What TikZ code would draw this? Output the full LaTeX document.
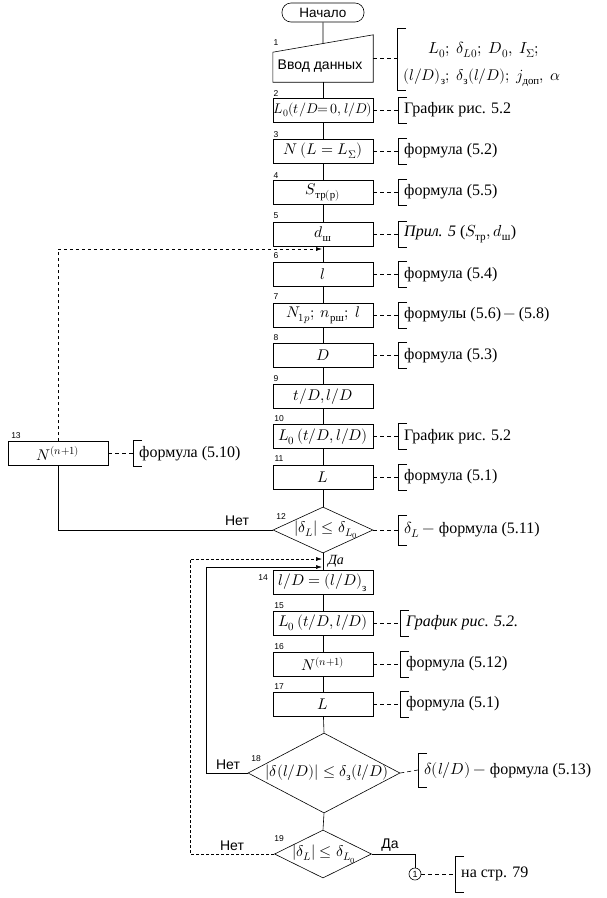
\documentclass[tikz,border=0pt]{standalone}
\usepackage{fontspec}
\usepackage{amsmath}
\usepackage{unicode-math}
\setmainfont{Liberation Serif}
\setsansfont{Liberation Sans}
\setmathfont{Latin Modern Math}
\usetikzlibrary{shapes.geometric,arrows.meta,calc}
\newcommand{\mycmt}[5]{%
  \coordinate (br#1) at (#2,#3);
  \draw[cline] (#1.east) -- (br#1);
  \draw[brk] (#2+9,#3-#4) -- (#2,#3-#4) -- (#2,#3+#4) -- (#2+9,#3+#4);
  \node[cmt] (ct#1) at (#2+6,#3) {#5};
}
\begin{document}
\begin{tikzpicture}[x=1pt,y=-1pt,
  box/.style={draw, line width=0.6pt, minimum width=100pt, minimum height=24pt, inner sep=0pt, font=\fontsize{15.5}{17}\selectfont},
  term/.style={draw, line width=0.6pt, rounded corners=9pt, minimum width=82pt, minimum height=19pt, inner sep=0pt, font=\sffamily\fontsize{13.5}{15}\selectfont},
  dia/.style={draw, line width=0.6pt, shape=diamond, inner sep=0pt},
  dtext/.style={inner sep=0pt, font=\fontsize{15.5}{17}\selectfont},
  num/.style={inner sep=0pt, font=\sffamily\fontsize{8.5}{9}\selectfont},
  cmt/.style={inner sep=0pt, anchor=west, font=\fontsize{16}{18}\selectfont},
  lab/.style={inner sep=0pt, font=\sffamily\fontsize{14}{16}\selectfont},
  flow/.style={line width=0.6pt},
  cline/.style={line width=0.6pt, dash pattern=on 4pt off 3pt},
  brk/.style={line width=0.6pt},
  arr/.style={-{Latex[length=6pt,width=4pt]}}
]
\fill[white] (0,0) rectangle (606,898);
\useasboundingbox (0,0) rectangle (606,898);

% start
\node[term] (start) at (323,12.5) {Начало};

% block 1 (manual input)
\node[inner sep=0pt, minimum width=100pt, minimum height=47pt] (b1) at (323,58.5) {};
\draw[flow] ([yshift=30pt]b1.south west) -- (b1.north east) -- (b1.south east) -- (b1.south west) -- cycle;
\node[lab] (b1t) at (320,66) {Ввод данных};
\coordinate (b1top) at ($([yshift=30pt]b1.south west)!0.5!(b1.north east)$);

% main column
\node[box, font=\fontsize{14}{16}\selectfont] (b2) at (323,110) {$L_0\!\left(t/D{=}\,0,l/D\right)$};
\node[box] (b3) at (323,151) {$N\left(L=L_\Sigma\right)$};
\node[box] (b4) at (323,192) {$S_{\text{тр}(\text{р})}$};
\node[box] (b5) at (323,234) {$d_\text{ш}$};
\node[box] (b6) at (323,274.5) {$l$};
\node[box] (b7) at (323,315) {$N_{1p};\ n_{\text{рш}};\ l$};
\node[box] (b8) at (323,355.5) {$D$};
\node[box] (b9) at (323,396.5) {$t/D, l/D$};
\node[box] (b10) at (323,436.5) {$L_0\left(t/D, l/D\right)$};
\node[box] (b11) at (323,477) {$L$};
\node[dia, minimum width=100pt, minimum height=46pt] (d12) at (323,530) {};
\node[dtext] (d12t) at (326,530) {$|\delta_L|\le\delta_{L_0}$};
\node[box] (b13) at (58,453.5) {$N^{(n+1)}$};
\node[box] (b14) at (323,582.5) {$l/D=\left(l/D\right)_\text{з}$};
\node[box] (b15) at (323,623) {$L_0\left(t/D,l/D\right)$};
\node[box] (b16) at (323,664) {$N^{(n+1)}$};
\node[box] (b17) at (323,704) {$L$};
\node[dia, minimum width=152pt, minimum height=80pt] (d18) at (324,773) {};
\node[dtext] (d18t) at (327,773) {$\left|\delta(l/D)\right|\le\delta_\text{з}(l/D)$};
\node[dia, minimum width=97pt, minimum height=48pt] (d19) at (323,854) {};
\node[dtext] (d19t) at (324,854) {$|\delta_L|\le\delta_{L_0}$};
\node[circle, draw, line width=0.6pt, minimum size=12pt, inner sep=0pt, font=\sffamily\fontsize{9}{10}\selectfont] (c1) at (415,874) {1};

% numbers
\node[num] (n1) at (276,42.5) {1};
\node[num] (n2) at (276,94) {2};
\node[num] (n3) at (276,135) {3};
\node[num] (n4) at (276,175.5) {4};
\node[num] (n5) at (276,216) {5};
\node[num] (n6) at (276,256) {6};
\node[num] (n7) at (276,297) {7};
\node[num] (n8) at (276,337.5) {8};
\node[num] (n9) at (276,378.5) {9};
\node[num] (n10) at (279,419) {10};
\node[num] (n11) at (279,459) {11};
\node[num] (n12) at (281,517) {12};
\node[num] (n13) at (16,435.5) {13};
\node[num] (n14) at (263,578) {14};
\node[num] (n15) at (279,606) {15};
\node[num] (n16) at (279,647) {16};
\node[num] (n17) at (279,687) {17};
\node[num] (n18) at (256,759) {18};
\node[num] (n19) at (279,839) {19};

% main flow
\draw[flow] (start) -- (b1top);
\draw[flow] (b1) -- (b2);
\draw[flow] (b2) -- (b3);
\draw[flow] (b3) -- (b4);
\draw[flow] (b4) -- (b5);
\draw[flow] (b5) -- (b6);
\draw[flow] (b6) -- (b7);
\draw[flow] (b7) -- (b8);
\draw[flow] (b8) -- (b9);
\draw[flow] (b9) -- (b10);
\draw[flow] (b10) -- (b11);
\draw[flow] (b11) -- (d12.north);
\draw[flow] (d12.south) -- (b14.north);
\draw[flow] (b14) -- (b15);
\draw[flow] (b15) -- (b16);
\draw[flow] (b16) -- (b17);
\draw[flow] (b17) -- (d18.north);
\draw[flow] (d18.south) -- (d19.north);

% loop from 12
\coordinate (j1) at (322,249);
\coordinate (k1) at (58,530);
\draw[flow] (d12.west) -- (k1) -- (b13.south);
\draw[flow, dashed, arr] (b13.north) |- (j1);
\node[lab] (net12) at (237,521) {Нет};
\node[inner sep=0pt, font=\itshape\fontsize{14}{16}\selectfont] (da12) at (336,561) {Да};

% loop from 18
\coordinate (j2) at (322,567);
\coordinate (k2) at (206,773);
\draw[flow, arr] (d18.west) -- (k2) |- (j2);
\node[lab] (net18) at (228,765) {Нет};

% loop from 19
\coordinate (j3) at (322,559);
\coordinate (k3) at (190,854);
\draw[flow, densely dashed, arr] (d19.west) -- (k3) |- (j3);
\node[lab] (net19) at (232,846) {Нет};

% exit
\draw[flow] (d19.east) -| (c1.north);
\node[lab] (da19) at (390,845) {Да};

% comments
\draw[cline] (b1.east) -- (397,58.5);
\draw[brk] (406,28) -- (397,28) -- (397,90) -- (406,90);
\node[cmt, anchor=center] (ct1a) at (484,50) {$L_0;\ \delta_{L0};\ D_0,\ I_\Sigma;$};
\node[cmt, anchor=center, font=\fontsize{15.5}{17}\selectfont] (ct1b) at (482,78) {$(l/D)_\text{з};\ \delta_\text{з}(l/D);\ j_\text{доп},\ \alpha$};

\mycmt{b2}{398}{110}{13}{График рис. 5.2}
\mycmt{b3}{398}{151}{13}{формула (5.2)}
\mycmt{b4}{398}{192}{13}{формула (5.5)}
\mycmt{b5}{398}{234}{13}{\textit{Прил. 5} ($S_\text{тр}, d_\text{ш}$)}
\mycmt{b6}{398}{274.5}{13}{формула (5.4)}
\mycmt{b7}{398}{315}{13}{формулы (5.6)\,$-$\,(5.8)}
\mycmt{b8}{398}{355.5}{13}{формула (5.3)}
\mycmt{b10}{398}{436.5}{13}{График рис. 5.2}
\mycmt{b11}{398}{477}{13}{формула (5.1)}
\mycmt{d12}{398}{530}{15}{$\delta_L-{}$формула (5.11)}
\mycmt{b13}{133}{453.5}{13}{формула (5.10)}
\mycmt{b15}{400}{623}{13}{\textit{График рис. 5.2.}}
\mycmt{b16}{400}{664}{13}{формула (5.12)}
\mycmt{b17}{400}{704}{13}{формула (5.1)}
\mycmt{d18}{418}{770}{17}{$\delta(l/D)-{}$формула (5.13)}
\mycmt{c1}{455}{874}{18}{на стр. 79}
\end{tikzpicture}
\end{document}
